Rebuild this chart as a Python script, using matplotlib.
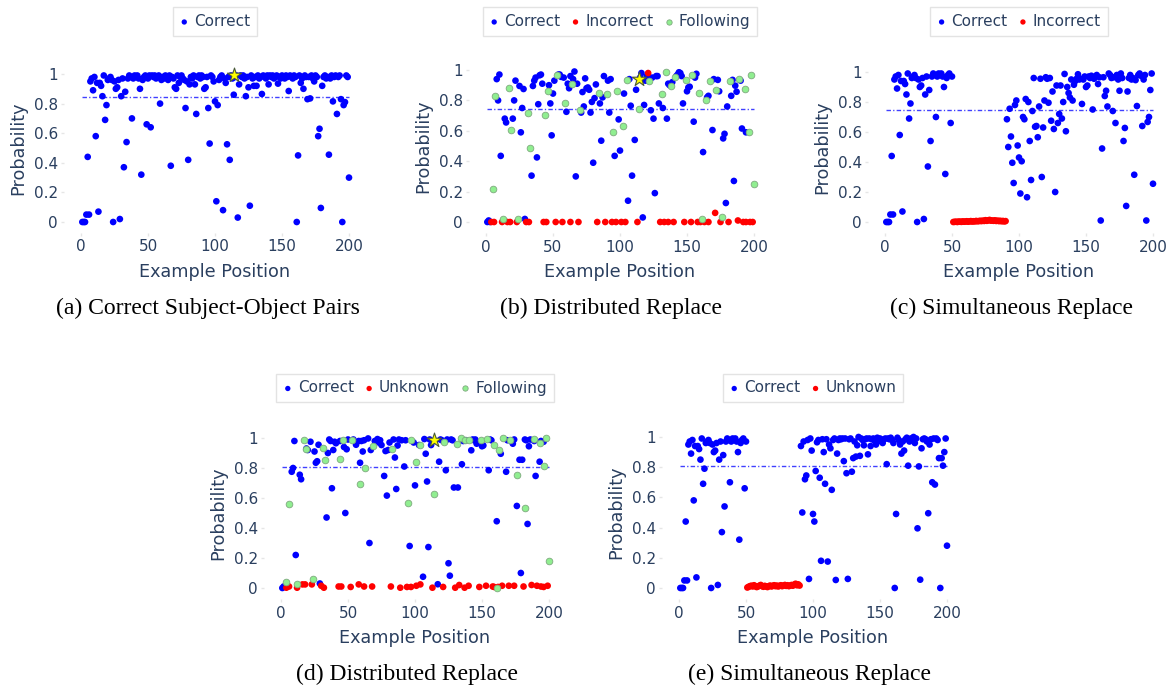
import matplotlib
matplotlib.use("Agg")
import matplotlib.pyplot as plt

# ---------------- data ----------------
example_pos = list(range(1, 201))

# (a) probability of the correct object for every example position
a_correct = [
    0.00, 0.00, 0.00, 0.05, 0.44, 0.05, 0.95, 0.97, 0.89, 0.98,
    0.58, 0.94, 0.07, 0.94, 0.92, 0.85, 0.99, 0.69, 0.79, 0.96,
    0.97, 0.98, 0.96, 0.00, 0.95, 0.90, 0.91, 0.96, 0.02, 0.85,
    0.97, 0.37, 0.88, 0.54, 0.97, 0.99, 0.98, 0.70, 0.97, 0.99,
    0.98, 0.99, 0.97, 0.90, 0.32, 0.96, 0.98, 0.99, 0.66, 0.97,
    0.99, 0.64, 0.99, 0.98, 0.99, 0.97, 0.98, 0.99, 0.80, 0.96,
    0.98, 0.97, 0.99, 0.98, 0.96, 0.99, 0.38, 0.98, 0.97, 0.91,
    0.90, 0.99, 0.94, 0.98, 0.99, 0.97, 0.96, 0.77, 0.95, 0.42,
    0.93, 0.98, 0.97, 0.99, 0.93, 0.73, 0.98, 0.99, 0.97, 0.99,
    0.98, 0.90, 0.91, 0.98, 0.77, 0.53, 0.99, 0.98, 0.95, 0.815,
    0.14, 0.79, 0.96, 0.98, 0.99, 0.08, 0.97, 0.94, 0.525, 0.98,
    0.42, 0.99, 0.97, 0.86, 0.98, 0.99, 0.03, 0.93, 0.99, 0.98,
    0.99, 0.97, 0.85, 0.98, 0.91, 0.11, 0.99, 0.97, 0.92, 0.98,
    0.92, 0.99, 0.97, 0.98, 0.865, 0.99, 0.98, 0.97, 0.99, 0.93,
    0.99, 0.98, 0.99, 0.97, 0.98, 0.99, 0.935, 0.98, 0.97, 0.99,
    0.98, 0.97, 0.99, 0.98, 0.885, 0.99, 0.98, 0.97, 0.99, 0.98,
    0.00, 0.45, 0.99, 0.94, 0.97, 0.90, 0.99, 0.98, 0.83, 0.98,
    0.835, 0.99, 0.97, 0.95, 0.99, 0.98, 0.58, 0.63, 0.095, 0.92,
    0.98, 0.99, 0.97, 0.98, 0.455, 0.97, 0.99, 0.815, 0.98, 0.99,
    0.73, 0.98, 0.99, 0.83, 0.00, 0.79, 0.81, 0.99, 0.98, 0.30,
]

# (b) distributed replace: (position, probability)
b_correct = [
    (1, 0.0), (2, 0.01), (3, 0.0), (8, 0.94), (9, 0.80), (10, 0.97), (11, 0.435),
    (14, 0.68), (15, 0.655), (20, 0.68), (21, 0.80), (22, 0.93), (25, 0.895),
    (26, 0.59), (27, 0.75), (28, 0.875), (29, 0.02), (34, 0.305), (35, 0.895),
    (36, 0.93), (37, 0.95), (38, 0.425), (39, 0.775), (40, 0.965), (41, 0.97),
    (42, 0.91), (47, 0.90), (48, 0.78), (49, 0.57), (50, 0.845), (51, 0.93),
    (54, 0.97), (55, 0.97), (56, 0.955), (58, 0.95), (60, 0.725), (61, 0.91),
    (62, 0.88), (63, 0.96), (65, 0.94), (66, 0.99), (67, 0.30), (68, 0.91),
    (71, 0.72), (72, 0.855), (73, 0.76), (74, 0.945), (75, 0.88), (76, 0.885),
    (77, 0.87), (78, 0.72), (79, 0.79), (80, 0.39), (81, 0.815), (82, 0.905),
    (85, 0.78), (86, 0.535), (87, 0.82), (88, 0.96), (91, 0.93), (92, 0.72),
    (93, 0.94), (96, 0.435), (99, 0.675), (100, 0.47), (103, 0.845), (106, 0.14),
    (107, 0.94), (108, 0.765), (109, 0.305), (111, 0.54), (112, 0.87), (115, 0.95),
    (116, 0.98), (117, 0.03), (118, 0.77), (119, 0.93), (120, 0.96), (123, 0.735),
    (124, 0.95), (125, 0.68), (126, 0.19), (127, 0.96), (128, 0.96), (129, 0.78),
    (132, 0.75), (135, 0.68), (136, 0.91), (137, 0.90), (139, 0.92), (142, 0.96),
    (143, 0.97), (144, 0.985), (145, 0.98), (146, 0.96), (147, 0.78), (150, 0.86),
    (151, 0.885), (152, 0.89), (155, 0.66), (156, 0.95), (157, 0.975), (162, 0.46),
    (165, 0.82), (166, 0.83), (169, 0.605), (170, 0.94), (173, 0.935), (174, 0.86),
    (177, 0.55), (178, 0.58), (179, 0.125), (180, 0.76), (183, 0.83), (184, 0.935),
    (185, 0.27), (186, 0.897), (187, 0.857), (190, 0.93), (191, 0.615), (194, 0.59),
]
b_incorrect = [
    (4, 0.0), (6, 0.0), (12, 0.0), (16, 0.0), (18, 0.0), (23, 0.0), (30, 0.0),
    (32, 0.0), (43, 0.0), (45, 0.0), (52, 0.0), (57, 0.0), (63, 0.0), (69, 0.0),
    (83, 0.0), (89, 0.0), (94, 0.0), (97, 0.0), (101, 0.0), (104, 0.0), (113, 0.0),
    (121, 0.98), (130, 0.0), (133, 0.0), (136, 0.0), (140, 0.0), (148, 0.0),
    (153, 0.0), (158, 0.0), (160, 0.0), (163, 0.0), (166, 0.0), (171, 0.06),
    (175, 0.0), (181, 0.0), (188, 0.01), (192, 0.0), (194, 0.0), (197, 0.0), (199, 0.0),
]
b_following = [
    (5, 0.215), (7, 0.83), (13, 0.02), (17, 0.88), (19, 0.605), (24, 0.02),
    (31, 0.72), (33, 0.49), (44, 0.705), (46, 0.865), (53, 0.965), (59, 0.78),
    (64, 0.905), (70, 0.74), (84, 0.85), (90, 0.845), (95, 0.595), (98, 0.86),
    (102, 0.63), (105, 0.935), (114, 0.745), (122, 0.93), (131, 0.84), (134, 0.985),
    (138, 0.895), (141, 0.955), (149, 0.935), (154, 0.965), (159, 0.85), (161, 0.02),
    (164, 0.80), (167, 0.93), (172, 0.87), (176, 0.03), (182, 0.93), (189, 0.94),
    (193, 0.875), (196, 0.59), (198, 0.965), (200, 0.25),
]

# (c) simultaneous replace: examples 51-90 replaced
c_incorrect = [
    0.000, 0.001, 0.002, 0.000, 0.003, 0.002, 0.001, 0.004, 0.002, 0.003,
    0.005, 0.002, 0.004, 0.006, 0.003, 0.005, 0.004, 0.007, 0.005, 0.006,
    0.008, 0.006, 0.009, 0.007, 0.012, 0.008, 0.011, 0.014, 0.009, 0.010,
    0.008, 0.011, 0.007, 0.009, 0.006, 0.008, 0.005, 0.007, 0.004, 0.006,
]
c_correct_tail = [
    0.685, 0.50, 0.755, 0.57, 0.395, 0.26, 0.78, 0.81, 0.51, 0.43,
    0.19, 0.405, 0.70, 0.685, 0.82, 0.165, 0.80, 0.54, 0.28, 0.74,
    0.96, 0.635, 0.64, 0.565, 0.77, 0.955, 0.30, 0.63, 0.81, 0.965,
    0.955, 0.795, 0.96, 0.675, 0.87, 0.62, 0.20, 0.91, 0.66, 0.72,
    0.91, 0.69, 0.80, 0.987, 0.605, 0.90, 0.86, 0.83, 0.95, 0.81,
    0.915, 0.94, 0.955, 0.985, 0.95, 0.955, 0.787, 0.95, 0.97, 0.90,
    0.91, 0.97, 0.96, 0.975, 0.75, 0.955, 0.97, 0.98, 0.92, 0.965,
    0.01, 0.49, 0.965, 0.84, 0.875, 0.77, 0.99, 0.98, 0.96, 0.74,
    0.965, 0.66, 0.98, 0.95, 0.875, 0.99, 0.96, 0.54, 0.627, 0.107,
    0.87, 0.96, 0.98, 0.95, 0.96, 0.315, 0.946, 0.773, 0.98, 0.99,
    0.975, 0.64, 0.95, 0.98, 0.01, 0.667, 0.70, 0.88, 0.99, 0.255,
]

# (d) distributed replace with unknown objects
d_correct = [
    (1, 0.0), (2, 0.01), (8, 0.775), (9, 0.80), (10, 0.98), (11, 0.22), (14, 0.755),
    (15, 0.725), (19, 0.93), (20, 0.92), (22, 0.975), (25, 0.91), (26, 0.835),
    (27, 0.845), (28, 0.955), (29, 0.03), (34, 0.47), (35, 0.90), (36, 0.99),
    (37, 0.98), (38, 0.665), (39, 0.92), (40, 0.975), (41, 0.965), (44, 0.98),
    (47, 0.94), (48, 0.50), (49, 0.925), (50, 0.99), (54, 0.99), (56, 0.955),
    (58, 0.98), (59, 0.835), (60, 0.98), (61, 0.91), (62, 0.985), (65, 0.997),
    (66, 0.30), (67, 0.92), (70, 0.98), (72, 0.993), (73, 0.97), (74, 0.985),
    (75, 0.953), (77, 0.747), (78, 0.913), (79, 0.616), (80, 0.92), (81, 0.97),
    (84, 0.99), (85, 0.87), (86, 0.66), (87, 0.95), (88, 0.99), (90, 0.985),
    (92, 0.81), (93, 0.985), (96, 0.28), (99, 0.97), (100, 0.684), (103, 0.953),
    (106, 0.075), (107, 0.993), (108, 0.895), (109, 0.71), (110, 0.273), (111, 0.99),
    (112, 0.953), (115, 0.98), (117, 0.025), (118, 0.842), (119, 0.99), (120, 0.985),
    (123, 0.785), (124, 0.99), (125, 0.165), (126, 0.082), (127, 0.99), (128, 0.985),
    (129, 0.67), (132, 0.67), (135, 0.825), (136, 0.98), (138, 0.985), (142, 0.918),
    (143, 0.99), (144, 0.985), (145, 0.99), (146, 0.962), (150, 0.945), (151, 0.95),
    (155, 0.785), (156, 0.99), (157, 0.985), (161, 0.445), (164, 0.895), (168, 0.775),
    (169, 0.985), (172, 0.98), (173, 0.962), (174, 0.99), (176, 0.547), (178, 0.855),
    (179, 0.10), (180, 0.855), (182, 0.99), (183, 0.985), (184, 0.427), (185, 0.945),
    (186, 0.99), (189, 0.98), (190, 0.747), (193, 0.842), (194, 0.98), (196, 0.975),
]
d_unknown = [
    (4, 0.002), (6, 0.01), (12, 0.002), (16, 0.024), (18, 0.024), (23, 0.024),
    (30, 0.015), (32, 0.002), (43, 0.01), (45, 0.01), (52, 0.007), (58, 0.024),
    (62, 0.01), (68, 0.01), (82, 0.01), (89, 0.002), (94, 0.007), (97, 0.007),
    (101, 0.015), (104, 0.024), (113, 0.002), (121, 0.007), (130, 0.002), (133, 0.02),
    (137, 0.002), (140, 0.015), (148, 0.007), (153, 0.015), (158, 0.01), (159, 0.007),
    (162, 0.007), (165, 0.015), (170, 0.015), (174, 0.015), (181, 0.01), (187, 0.02),
    (191, 0.015), (194, 0.01), (196, 0.007), (199, 0.015),
]
d_following = [
    (4, 0.042), (6, 0.557), (12, 0.03), (17, 0.985), (19, 0.93), (24, 0.06),
    (31, 0.935), (33, 0.855), (44, 0.857), (46, 0.99), (53, 0.985), (59, 0.695),
    (63, 0.80), (69, 0.944), (83, 0.93), (95, 0.567), (97, 0.99), (101, 0.838),
    (104, 0.953), (114, 0.63), (122, 0.975), (131, 0.962), (134, 0.998), (137, 0.99),
    (140, 0.99), (149, 0.985), (154, 0.993), (159, 0.953), (161, 0.002), (163, 0.918),
    (166, 0.998), (171, 0.99), (176, 0.753), (182, 0.536), (189, 0.993), (193, 0.967),
    (196, 0.815), (198, 0.998), (200, 0.182),
]

# (e) simultaneous replace with unknown objects
e_unknown = [
    0.003, 0.008, 0.012, 0.015, 0.010, 0.018, 0.012, 0.006, 0.010, 0.015,
    0.020, 0.012, 0.008, 0.014, 0.010, 0.006, 0.012, 0.016, 0.010, 0.014,
    0.018, 0.012, 0.016, 0.010, 0.014, 0.018, 0.012, 0.016, 0.020, 0.014,
    0.018, 0.012, 0.016, 0.020, 0.015, 0.022, 0.028, 0.018, 0.024, 0.016,
]
e_correct_tail = [
    0.94, 0.50, 0.97, 0.72, 0.745, 0.98, 0.06, 0.99, 0.91, 0.49,
    0.44, 0.775, 0.965, 0.98, 0.73, 0.18, 0.985, 0.90, 0.69, 0.985,
    0.175, 0.95, 0.925, 0.65, 0.98, 0.99, 0.053, 0.89, 0.98, 0.99,
    0.985, 0.99, 0.84, 0.99, 0.76, 0.06, 0.985, 0.99, 0.77, 0.86,
    0.97, 0.87, 0.945, 1.0, 0.875, 0.99, 0.98, 0.945, 0.985, 0.99,
    0.885, 0.99, 0.94, 0.985, 0.99, 0.975, 0.95, 0.995, 0.98, 0.99,
    0.97, 0.96, 0.985, 0.99, 0.82, 0.99, 0.985, 0.995, 0.98, 0.96,
    0.0, 0.49, 0.995, 0.98, 0.95, 0.89, 0.97, 0.91, 0.985, 0.995,
    0.81, 0.97, 0.99, 0.985, 1.0, 0.96, 0.99, 0.395, 0.805, 0.055,
    0.925, 0.985, 0.99, 0.985, 0.97, 0.495, 0.95, 0.985, 0.70, 0.99,
    0.685, 0.99, 0.98, 0.86, 0.0, 0.86, 0.81, 0.90, 0.99, 0.28,
]

# the query example (star) and the mean probability line of each panel
star_pos = 114
a_star, b_star, d_star = 0.995, 0.94, 0.985
a_mean, b_mean, c_mean, d_mean, e_mean = 0.845, 0.745, 0.745, 0.805, 0.81

captions = ["(a) Correct Subject-Object Pairs", "(b) Distributed Replace",
            "(c) Simultaneous Replace", "(d) Distributed Replace",
            "(e) Simultaneous Replace"]

# ---------------- styling ----------------
W, H = 1173, 688
TXT = "#2a3f5f"
BLUE, RED, GREEN = "#0000ff", "#ff0000", "#90ee90"
plt.rcParams["font.family"] = ["DejaVu Sans"]

fig = plt.figure(figsize=(W / 100, H / 100), dpi=100)


def unzip(pairs):
    return [p[0] for p in pairs], [p[1] for p in pairs]


def panel(left, bottom, height, series, mean_y, star_y, legend_y, caption, cap_x):
    width = 301.5
    ax = fig.add_axes([left / W, 1 - bottom / H, width / W, height / H])
    for xs, ys, color, label in series:
        edge = "#7fa97f" if color == GREEN else "none"
        ax.scatter(xs, ys, s=23, color=color, edgecolors=edge, linewidths=0.6,
                   label=label, zorder=3)
    ax.plot([min(example_pos), max(example_pos)], [mean_y, mean_y], color=BLUE,
            alpha=0.75, lw=1, dashes=[3.2, 1.6, 0.9, 1.6], zorder=2)
    if star_y is not None:
        ax.scatter([star_pos], [star_y], marker="*", s=115, color="#ffff00",
                   edgecolors="#4a5a3a", linewidths=0.8, zorder=5)
    ax.set_xlim(-12.5, 212.5)
    ax.set_ylim(-0.075, 1.075)
    ax.set_xticks([0, 50, 100, 150, 200])
    ax.set_yticks([0, 0.2, 0.4, 0.6, 0.8, 1])
    ax.set_yticklabels(["0", "0.2", "0.4", "0.6", "0.8", "1"])
    for s in ax.spines.values():
        s.set_visible(False)
    ax.tick_params(length=2.5, width=1, color="#e6e6e6", pad=2,
                   labelsize=11, labelcolor=TXT)
    ax.set_xlabel("Example Position", fontsize=12.7, color=TXT)
    ax.set_ylabel("Probability", fontsize=12.7, color=TXT)
    ax.xaxis.set_label_coords(0.5, -39 / height)
    ax.xaxis.label.set_va("center")
    ax.yaxis.set_label_coords(-46 / width, 0.5)
    ax.yaxis.label.set_va("center")
    cx = (left + width / 2) / W
    leg = ax.legend(loc="center", bbox_to_anchor=(cx, 1 - legend_y / H),
                    bbox_transform=fig.transFigure, ncol=len(series),
                    fontsize=11, labelcolor=TXT, markerscale=0.8,
                    handlelength=0.6, handletextpad=0.35, columnspacing=0.7,
                    borderpad=0.45, fancybox=False, framealpha=1)
    leg.get_frame().set_edgecolor("#e3e3e3")
    leg.get_frame().set_linewidth(1)
    fig.text(cap_x / W, 1 - (bottom + 75) / H, caption, ha="center", va="center",
             fontsize=17, family="Liberation Serif", color="black")
    return ax


first50 = example_pos[:50]
mid = example_pos[50:90]
tail = example_pos[90:]

panel(64.25, 233.1, 170.2,
      [(example_pos, a_correct, BLUE, "Correct")],
      a_mean, a_star, 21.5, captions[0], 207.5)

bx, by = unzip(b_correct)
rx, ry = unzip(b_incorrect)
gx, gy = unzip(b_following)
panel(469.25, 233.4, 174.8,
      [(bx, by, BLUE, "Correct"), (rx, ry, RED, "Incorrect"),
       (gx, gy, GREEN, "Following")],
      b_mean, b_star, 21.5, captions[1], 611.5)

panel(868.25, 233.25, 172.5,
      [(first50 + tail, a_correct[:50] + c_correct_tail, BLUE, "Correct"),
       (mid, c_incorrect, RED, "Incorrect")],
      c_mean, None, 21.5, captions[2], 1011.5)

dx, dy = unzip(d_correct)
ux, uy = unzip(d_unknown)
fx, fy = unzip(d_following)
panel(264.25, 599.25, 172.5,
      [(dx, dy, BLUE, "Correct"), (ux, uy, RED, "Unknown"),
       (fx, fy, GREEN, "Following")],
      d_mean, d_star, 388, captions[3], 406.5)

panel(662.25, 599.3, 173.65,
      [(first50 + tail, a_correct[:50] + e_correct_tail, BLUE, "Correct"),
       (mid, e_unknown, RED, "Unknown")],
      e_mean, None, 388, captions[4], 809.5)

fig.savefig("out.png", dpi=100, facecolor="white")
